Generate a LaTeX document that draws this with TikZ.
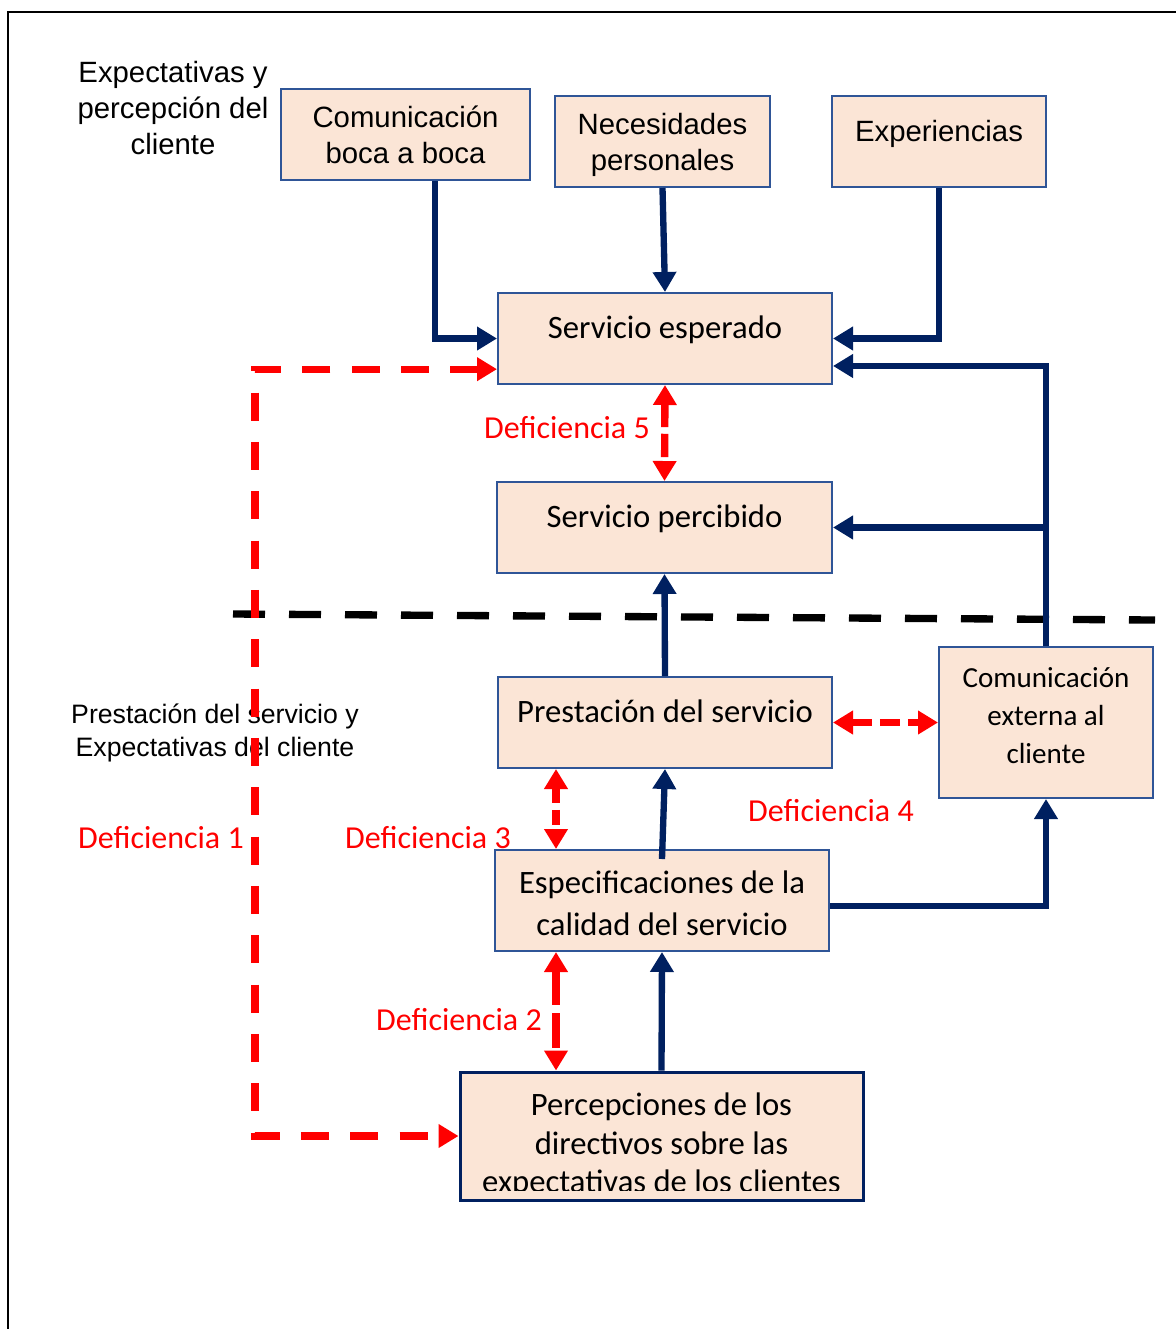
\documentclass[tikz,border=0pt]{standalone}
\usepackage{fontspec}
\setmainfont{Liberation Sans}
\newfontfamily\calibri{Carlito}
\usetikzlibrary{calc, arrows.meta}
\definecolor{azul}{HTML}{002060}
\definecolor{bordeazul}{HTML}{2F5597}
\definecolor{relleno}{HTML}{FBE5D6}
\definecolor{rojo}{HTML}{FF0000}
\tikzset{
  caja/.style = {draw=bordeazul, fill=relleno, line width=1.5pt, align=center,
    inner sep=0pt, font=\calibri\fontsize{24.5}{31.5}\selectfont},
  cajaA/.style = {caja, font=\fontsize{22}{27}\selectfont},% caja, letra Arial
  arriba/.style = {text height=15pt, text depth=15pt},% texto arriba en la caja
  flecha/.style = {draw=azul, line width=4.75pt,
    -{Triangle[length=15pt,width=17pt]}},
  defi/.style = {draw=rojo, line width=5.5pt, dash pattern=on 21pt off 16pt,
    {Triangle[length=15pt,width=17pt]}-{Triangle[length=15pt,width=17pt]}},% deficiencia
  etiq/.style = {text=rojo, font=\calibri\fontsize{24}{29}\selectfont},
  nota/.style = {align=center, font=\fontsize{22}{27}\selectfont},
  corte/.style = {draw=black, line width=5.5pt, dash pattern=on 24pt off 18pt}
}

\begin{document}
\begin{tikzpicture}[x=0.75pt, y=-0.75pt]
\useasboundingbox (0,0) rectangle (1176,1329);
\draw[line width=2pt] (8,1329) -- (8,12) -- (1176,12);

% linea de separacion
\coordinate (li) at (233,614);
\coordinate (ld) at (1155,620);
\draw[corte] (li) -- (ld);

\node[nota] (n1) at (173,108) {Expectativas y\\percepción del\\cliente};
\node[nota, font=\fontsize{20}{25}\selectfont] (n2) at (215,733) {Prestación del servicio y\\Expectativas del cliente};

\node[cajaA, minimum width=186.75pt, minimum height=68.25pt] (cbb) at (405.5,134.5) {Comunicación\\boca a boca};
\node[cajaA, minimum width=161.25pt, minimum height=68.25pt] (nec) at (662.5,141.5) {};
\node[nota] (nect) at (662.5,145) {Necesidades\\personales};
\node[cajaA, arriba, minimum width=160.5pt, minimum height=68.25pt] (exp) at (939,141.5) {Experiencias};
\node[caja, arriba, minimum width=250.5pt, minimum height=68.25pt] (se) at (665,338.5) {Servicio esperado};
\node[caja, arriba, minimum width=251.25pt, minimum height=68.25pt] (sp) at (664.5,527.5) {Servicio percibido};
\node[caja, arriba, minimum width=250.5pt, minimum height=68.25pt] (ps) at (665,722.5) {Prestación del servicio};
\node[caja, minimum width=160.5pt, minimum height=113.25pt] (cex) at (1046,722.5) {};
\node[align=center, font=\calibri\fontsize{21.8}{28.5}\selectfont] (cext) at (1046,716) {Comunicación\\externa al\\cliente};
\node[caja, minimum width=250.5pt, minimum height=75.75pt] (esp) at (662,900.5) {};
\node[align=center, font=\calibri\fontsize{24.5}{31.5}\selectfont] (espt) at (662,903) {Especificaciones de la\\calidad del servicio};
\node[caja, draw=azul, line width=2.25pt, minimum width=302.25pt, minimum height=96pt] (per) at (661.5,1136) {};
\begin{scope}
  \clip (per.north west) rectangle ([yshift=8.25pt]per.south east);
  \node[inner sep=0pt, anchor=north, align=center, font=\calibri\fontsize{24.5}{29}\selectfont]
    (pert) at ([yshift=-16.5pt]per.north) {Percepciones de los\\directivos sobre las\\expectativas de los clientes};
\end{scope}

% flechas azules
\draw[flecha] ([xshift=22pt]cbb.south) |- (se.west);
\draw[flecha] (nec.south) -- (se.north);
\draw[flecha] (exp.south) |- (se.east);
\draw[flecha] (cex.north) |- ([yshift=-20.6pt]se.east);
\draw[flecha] (cex.north |- sp.east) -- (sp.east);
\draw[flecha] (ps.north) -- (sp.south);
\draw[flecha] ([yshift=-7.5pt]esp.north) -- (ps.south);
\draw[flecha] (per.north) -- (esp.south);
\draw[flecha] ([yshift=-4pt]esp.east) -| (cex.south);

% deficiencias
\coordinate (esq) at (255,0);
\coordinate (d3) at (556,0);
\draw[defi] ([yshift=-23pt]se.west) -- ([yshift=-23pt]se.west -| esq) -- (esq |- per.west) -- (per.west);
\draw[defi, dash pattern=on 17.5pt off 5pt] (se.south) -- (sp.north);
\draw[defi, dash pattern=on 11.5pt off 5pt] (ps.south -| d3) -- (esp.north -| d3);
\draw[defi, dash pattern=on 26pt off 6pt] (esp.south -| d3) -- (per.north -| d3);
\draw[defi, dash pattern=on 15pt off 6pt] (ps.east) -- (cex.west);

\node[etiq] (e5) at (567,428) {Deficiencia 5};
\node[etiq] (e4) at (831,811) {Deficiencia 4};
\node[etiq] (e3) at (428,838) {Deficiencia 3};
\node[etiq] (e1) at (161,838) {Deficiencia 1};
\node[etiq] (e2) at (459,1020) {Deficiencia 2};
\end{tikzpicture}
\end{document}
